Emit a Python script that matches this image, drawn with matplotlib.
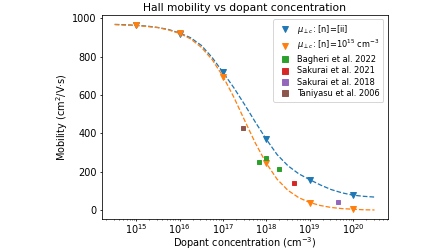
import numpy as np
import matplotlib
matplotlib.use("Agg")
import matplotlib.pyplot as plt

# Dashed model curves
curve_logn = [14.5, 14.75, 15.0, 15.25, 15.5, 15.75, 16.0, 16.25, 16.5, 16.75,
              17.0, 17.25, 17.5, 17.75, 18.0, 18.25, 18.5, 18.75, 19.0, 19.25,
              19.5, 19.75, 20.0, 20.25, 20.5]
curve_ii = [967, 965, 962, 958, 951, 940, 922, 898, 858, 795,
            718, 638, 550, 458, 370, 290, 232, 190, 160, 132,
            108, 91, 79, 73, 69]
curve_1e15 = [966, 963, 961, 956, 950, 938, 920, 892, 848, 784,
              697, 589, 468, 349, 245, 162, 104, 66, 41, 25,
              15, 9, 6, 3, 2]

# Calculated points
calc_n = [1e15, 1e16, 1e17, 1e18, 1e19, 1e20]
calc_ii = [962, 918, 718, 370, 158, 78]
calc_1e15 = [962, 922, 695, 245, 40, 7]

# Literature data
bagheri_n = [6.8e17, 1.0e18, 1.95e18]
bagheri_mu = [253, 272, 213]
sakurai21_n = [4.4e18]
sakurai21_mu = [142]
sakurai18_n = [4.5e19]
sakurai18_mu = [45]
taniyasu_n = [2.9e17]
taniyasu_mu = [428]

fig = plt.figure(figsize=(6.4, 3.6), dpi=70)
ax = fig.add_axes([0.227, 0.13, 0.638, 0.81])

cx = np.power(10.0, curve_logn)
ax.plot(cx, curve_ii, '--', color='tab:blue', lw=1.3)
ax.plot(calc_n, calc_ii, 'v', color='tab:blue', ls='none', ms=5.5,
        label=r'$\mu_{\perp c}$: [n]=[ii]')
ax.plot(cx, curve_1e15, '--', color='tab:orange', lw=1.3)
ax.plot(calc_n, calc_1e15, 'v', color='tab:orange', ls='none', ms=5.5,
        label=r'$\mu_{\perp c}$: [n]=$10^{15}$ cm$^{-3}$')
ax.plot(bagheri_n, bagheri_mu, 's', color='tab:green', ls='none', ms=5, label='Bagheri et al. 2022')
ax.plot(sakurai21_n, sakurai21_mu, 's', color='tab:red', ls='none', ms=5, label='Sakurai et al. 2021')
ax.plot(sakurai18_n, sakurai18_mu, 's', color='tab:purple', ls='none', ms=5, label='Sakurai et al. 2018')
ax.plot(taniyasu_n, taniyasu_mu, 's', color='tab:brown', ls='none', ms=5, label='Taniyasu et al. 2006')

ax.set_xscale('log')
ax.set_xticks([1e15, 1e16, 1e17, 1e18, 1e19, 1e20])
ax.set_yticks([0, 200, 400, 600, 800, 1000])
ax.tick_params(which='major', length=2.5, pad=2.5)
ax.tick_params(axis='x', which='major', pad=0.5)
ax.tick_params(which='minor', length=1.5)
ax.set_xlabel('Dopant concentration (cm$^{-3}$)', labelpad=-1)
ax.set_ylabel('Mobility (cm$^2$/V·s)', labelpad=2)
ax.set_title('Hall mobility vs dopant concentration', fontsize=11, pad=4.5)
ax.legend(loc='upper right', fontsize=8.5, labelspacing=0.3, handletextpad=0.5,
          markerscale=1.1)

fig.savefig('out.png', dpi=70)
